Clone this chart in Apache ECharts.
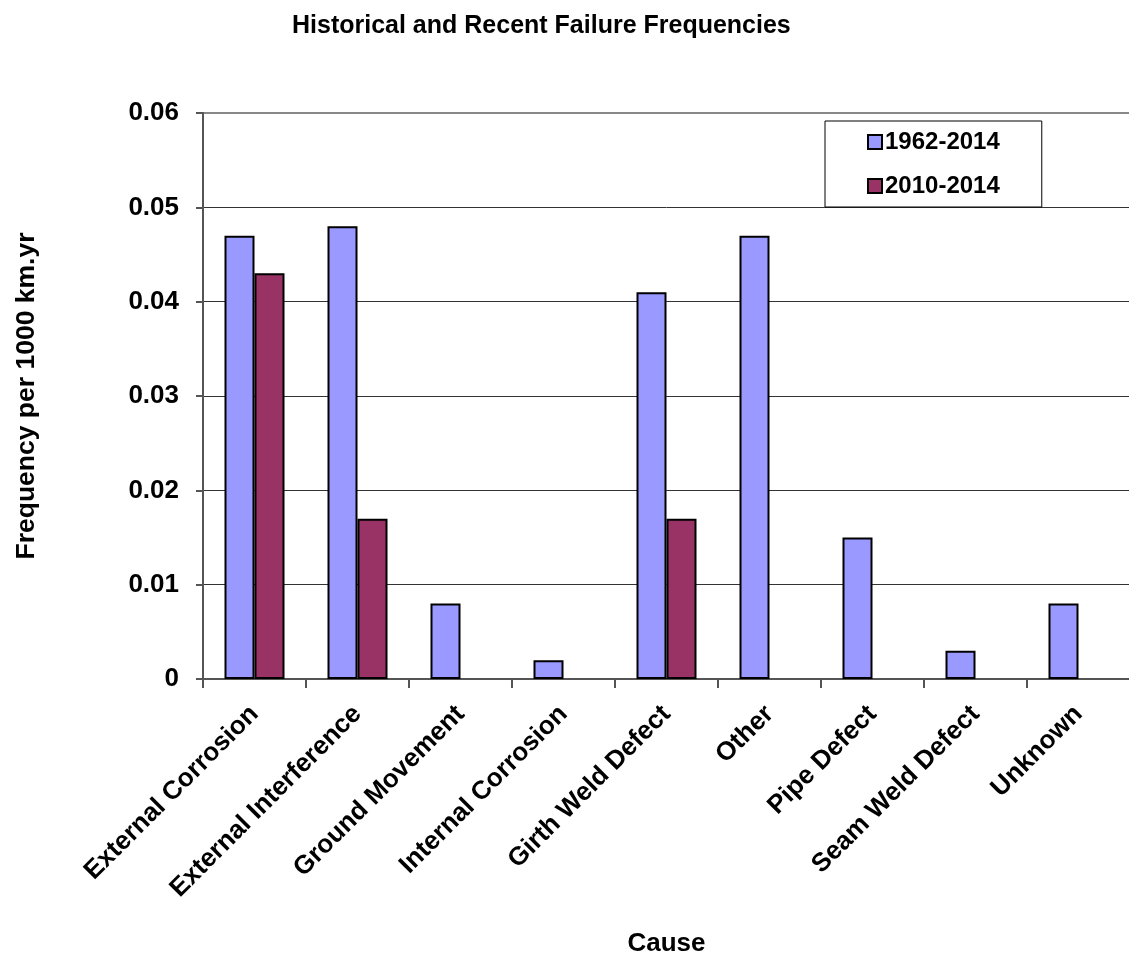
<!DOCTYPE html>
<html><head><meta charset="utf-8">
<script src="https://cdn.jsdelivr.net/npm/echarts@6/dist/echarts.min.js"></script>
<style>html,body{margin:0;padding:0;background:#fff;overflow:hidden}#c{width:1129px;height:958px}</style>
</head><body><div id="c"></div>
<script>
const categories = ["External Corrosion","External Interference","Ground Movement","Internal Corrosion","Girth Weld Defect","Other","Pipe Defect","Seam Weld Defect","Unknown"];
const seriesNames = ["1962-2014","2010-2014"];
const values1962 = [0.047,0.048,0.008,0.002,0.041,0.047,0.015,0.003,0.008];
const values2010 = [0.043,0.017,null,null,0.017,null,null,null,null];
const yTicks = [0,0.01,0.02,0.03,0.04,0.05,0.06];

const FONT = '"Liberation Sans", Arial, sans-serif';
const chart = echarts.init(document.getElementById('c'), null, {renderer:'canvas'});
chart.setOption({
  animation:false,
  backgroundColor:'#fff',
  textStyle:{fontFamily:FONT, fontWeight:'bold', color:'#000'},
  title:{
    text:'Historical and Recent Failure Frequencies',
    left:287, top:9,
    textStyle:{fontFamily:FONT, fontWeight:'bold', fontSize:25, color:'#000'}
  },
  legend:{
    orient:'vertical', left:825, top:121,
    padding:[9,42,9,42], itemGap:20, itemWidth:14, itemHeight:14,
    borderColor:'#000', borderWidth:1, backgroundColor:'#fff',
    icon:'rect',
    textStyle:{fontFamily:FONT, fontWeight:'bold', fontSize:24, color:'#000', padding:[0,0,0,-2]},
    data:seriesNames
  },
  grid:{left:203, top:113, bottom:279, width:927, outerBoundsMode:'none', containLabel:false,
        show:true, borderColor:'#888', borderWidth:2, backgroundColor:'transparent'},
  xAxis:{
    type:'category', data:categories,
    name:'Cause', nameLocation:'middle', nameGap:252,
    nameTextStyle:{fontFamily:FONT, fontWeight:'bold', fontSize:26, color:'#000'},
    axisLine:{lineStyle:{color:'#555', width:2}},
    axisTick:{show:true, length:9, lineStyle:{color:'#555', width:2}},
    axisLabel:{rotate:45, interval:0, margin:31, fontFamily:FONT, fontWeight:'bold', fontSize:26, color:'#000'}
  },
  yAxis:{
    type:'value', min:0, max:0.06, interval:0.01,
    name:'Frequency per 1000 km.yr', nameLocation:'middle', nameGap:163, nameRotate:90,
    nameTextStyle:{fontFamily:FONT, fontWeight:'bold', fontSize:26.5, color:'#000'},
    axisLine:{show:true, lineStyle:{color:'#555', width:2}},
    axisTick:{show:true, length:7, lineStyle:{color:'#555', width:2}},
    splitLine:{show:true, lineStyle:{color:['#333','#333','#333','#333','#333','#333','#888'], width:1}},
    axisLabel:{margin:24, fontFamily:FONT, fontWeight:'bold', fontSize:26, color:'#000',
      formatter:v => v===0 ? '0' : v.toFixed(2)}
  },
  series:[
    {name:seriesNames[0], type:'bar', data:values1962, barWidth:30, barGap:'0%',
     itemStyle:{color:'#9999FF', borderColor:'#000', borderWidth:2}},
    {name:seriesNames[1], type:'bar', data:values2010, barWidth:30, barGap:'0%',
     itemStyle:{color:'#993366', borderColor:'#000', borderWidth:2}}
  ]
});
</script></body></html>
